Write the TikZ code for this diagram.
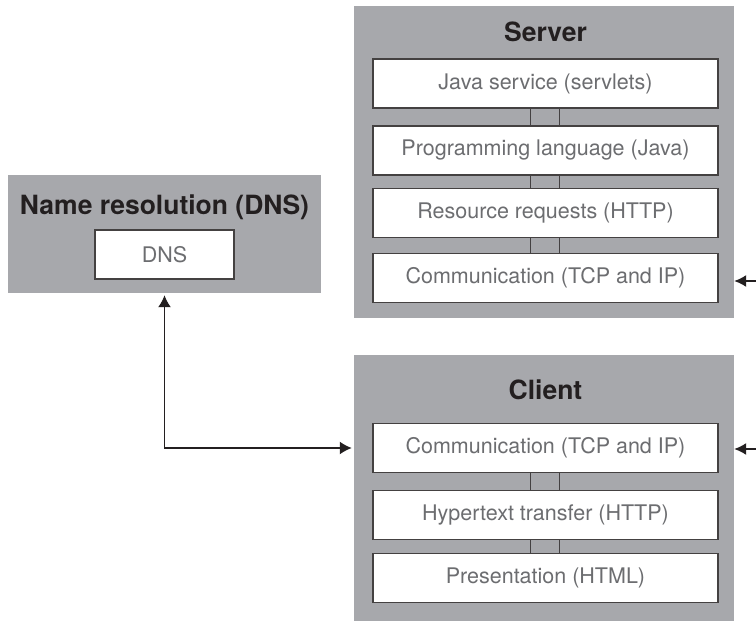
\documentclass[tikz,border=0pt]{standalone}
\usepackage{fontspec}
\setmainfont{TeX Gyre Heros}
\usetikzlibrary{arrows.meta}
\definecolor{panelgray}{RGB}{167,168,172}
\definecolor{inkgray}{RGB}{108,109,112}
\definecolor{ink}{RGB}{35,31,32}
\tikzset{every picture/.style = {x=1pt, y=-1pt}}
\tikzset{panel/.style = {fill=panelgray, inner sep=0}}
\tikzset{paneltitle/.style = {text=ink, font=\fontsize{26.5}{30}\selectfont\bfseries}}
\tikzset{layer/.style = {draw=ink!85, fill=white, line width=1.3pt, inner sep=0,
  minimum width=345, minimum height=49, text=inkgray, font=\fontsize{21.5}{25}\selectfont}}
\tikzset{pipe/.style = {ink!85, line width=1.2pt}}
\tikzset{tip/.style = {line width=1.5pt, draw=ink}}
\tikzset{link/.style = {tip, -{Latex[length=12pt, width=12pt]}}}

\begin{document}
\begin{tikzpicture}
  \useasboundingbox (0, 0) rectangle (756, 621);
  % name resolution
  \node[panel, minimum width=313, minimum height=118] (dnsp) at (164.5, 234) {};
  \node[paneltitle] (dnst) at (164.5, 207) {Name resolution (DNS)};
  \node[layer, minimum width=139] (dns) at (164.5, 254.5) {DNS};
  % server
  \node[panel, minimum width=380, minimum height=312] (serverp) at (544, 162) {};
  \node[paneltitle] (servert) at (545.5, 32) {Server};
  \node[layer] (s1) at (545.5, 83.5) {Java service (servlets)};
  \node[layer] (s2) at (545.5, 150.5) {Programming language (Java)};
  \node[layer] (s3) at (545.5, 213) {Resource requests (HTTP)};
  \node[layer] (s4) at (545.5, 278) {Communication (TCP and IP)};
  % client
  \node[panel, minimum width=380, minimum height=267] (clientp) at (544, 488.5) {};
  \node[paneltitle] (clientt) at (545.5, 390) {Client};
  \node[layer] (c1) at (545.5, 448) {Communication (TCP and IP)};
  \node[layer] (c2) at (545.5, 515) {Hypertext transfer (HTTP)};
  \node[layer] (c3) at (545.5, 578) {Presentation (HTML)};
  % pipes between layers
  \foreach \a/\b in {s1/s2, s2/s3, s3/s4, c1/c2, c2/c3} {
    \draw[pipe] ([xshift=-15]\a.south) -- ([xshift=-15]\b.north);
    \draw[pipe] ([xshift=14]\a.south) -- ([xshift=14]\b.north);
  }
  % links
  \coordinate (srvin) at (756, 281);
  \coordinate (clin) at (756, 449);
  \draw[link] (srvin) -- (serverp.east |- srvin);
  \draw[link] (clin) -- (clientp.east |- clin);
  \draw[tip, {Latex[length=12pt, width=13pt]}-{Latex[length=12pt, width=13pt]},
    shorten <=2pt, shorten >=2pt] (dnsp.south) |- (clientp.west |- c1.west);
\end{tikzpicture}
\end{document}
